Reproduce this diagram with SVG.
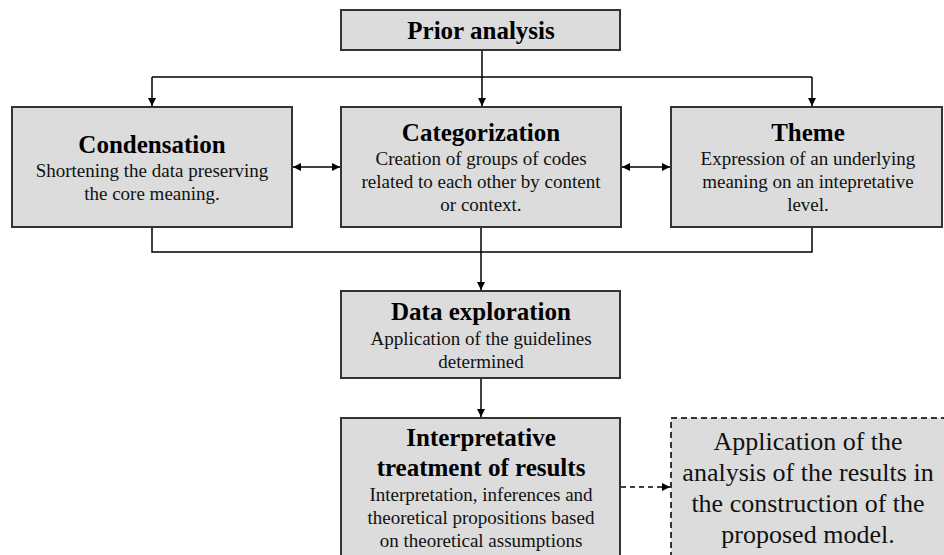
<svg xmlns="http://www.w3.org/2000/svg" width="944" height="555" viewBox="0 0 944 555">
<defs>
<style>
.box{fill:#dcdcdc;stroke:#333;stroke-width:2}
.dbox{fill:#dcdcdc;stroke:#333;stroke-width:2;stroke-dasharray:6 4}
.t{font-family:"Liberation Serif","Times New Roman",serif;font-weight:bold;font-size:25px;fill:#000;text-anchor:middle}
.b{font-family:"Liberation Serif","Times New Roman",serif;font-size:19px;fill:#111;text-anchor:middle}
.big{font-family:"Liberation Serif","Times New Roman",serif;font-size:26px;fill:#111;text-anchor:middle}
.c{fill:none;stroke:#000;stroke-width:1.5}
.cd{fill:none;stroke:#000;stroke-width:1.5;stroke-dasharray:5 4}
</style>
<marker id="ah" viewBox="0 0 10 10" refX="10" refY="5" markerWidth="8" markerHeight="8" markerUnits="userSpaceOnUse" orient="auto-start-reverse">
<path d="M0,0 L10,5 L0,10 Z" fill="#000"/>
</marker>
</defs>
<g id="connectors">
<path class="c" d="M482,51 V106" marker-end="url(#ah)"/>
<path class="c" d="M152,77 H812"/>
<path class="c" d="M152,77 V106" marker-end="url(#ah)"/>
<path class="c" d="M812,77 V106" marker-end="url(#ah)"/>
<path class="c" d="M293,167 H340" marker-start="url(#ah)" marker-end="url(#ah)"/>
<path class="c" d="M622,167 H670" marker-start="url(#ah)" marker-end="url(#ah)"/>
<path class="c" d="M152,228 V252 H812 V228"/>
<path class="c" d="M481,228 V290" marker-end="url(#ah)"/>
<path class="c" d="M481,379 V417" marker-end="url(#ah)"/>
<path class="cd" d="M621,487 H670" marker-end="url(#ah)"/>
</g>
<g id="prior">
<rect class="box" x="341" y="10" width="279" height="40"/>
<text class="t" x="481" y="39">Prior analysis</text>
</g>
<g id="condensation">
<rect class="box" x="12" y="107" width="280" height="120"/>
<text class="t" x="152" y="153">Condensation</text>
<text class="b" x="152" y="177">Shortening the data preserving</text>
<text class="b" x="152" y="200">the core meaning.</text>
</g>
<g id="categorization">
<rect class="box" x="341" y="107" width="280" height="120"/>
<text class="t" x="481" y="141">Categorization</text>
<text class="b" x="481" y="165">Creation of groups of codes</text>
<text class="b" x="481" y="188">related to each other by content</text>
<text class="b" x="481" y="211">or context.</text>
</g>
<g id="theme">
<rect class="box" x="671" y="107" width="271" height="120"/>
<text class="t" x="808" y="141">Theme</text>
<text class="b" x="808" y="165">Expression of an underlying</text>
<text class="b" x="808" y="188">meaning on an intepretative</text>
<text class="b" x="808" y="211">level.</text>
</g>
<g id="exploration">
<rect class="box" x="341" y="291" width="279" height="87"/>
<text class="t" x="481" y="320">Data exploration</text>
<text class="b" x="481" y="345">Application of the guidelines</text>
<text class="b" x="481" y="368">determined</text>
</g>
<g id="interpretative">
<rect class="box" x="341" y="418" width="279" height="200"/>
<text class="t" x="481" y="446">Interpretative</text>
<text class="t" x="481" y="476">treatment of results</text>
<text class="b" x="481" y="501">Interpretation, inferences and</text>
<text class="b" x="481" y="524">theoretical propositions based</text>
<text class="b" x="481" y="547">on theoretical assumptions</text>
</g>
<g id="application">
<rect class="dbox" x="671" y="418" width="300" height="200"/>
<text class="big" x="808" y="450">Application of the</text>
<text class="big" x="808" y="481">analysis of the results in</text>
<text class="big" x="808" y="512">the construction of the</text>
<text class="big" x="808" y="543">proposed model.</text>
</g>
</svg>
